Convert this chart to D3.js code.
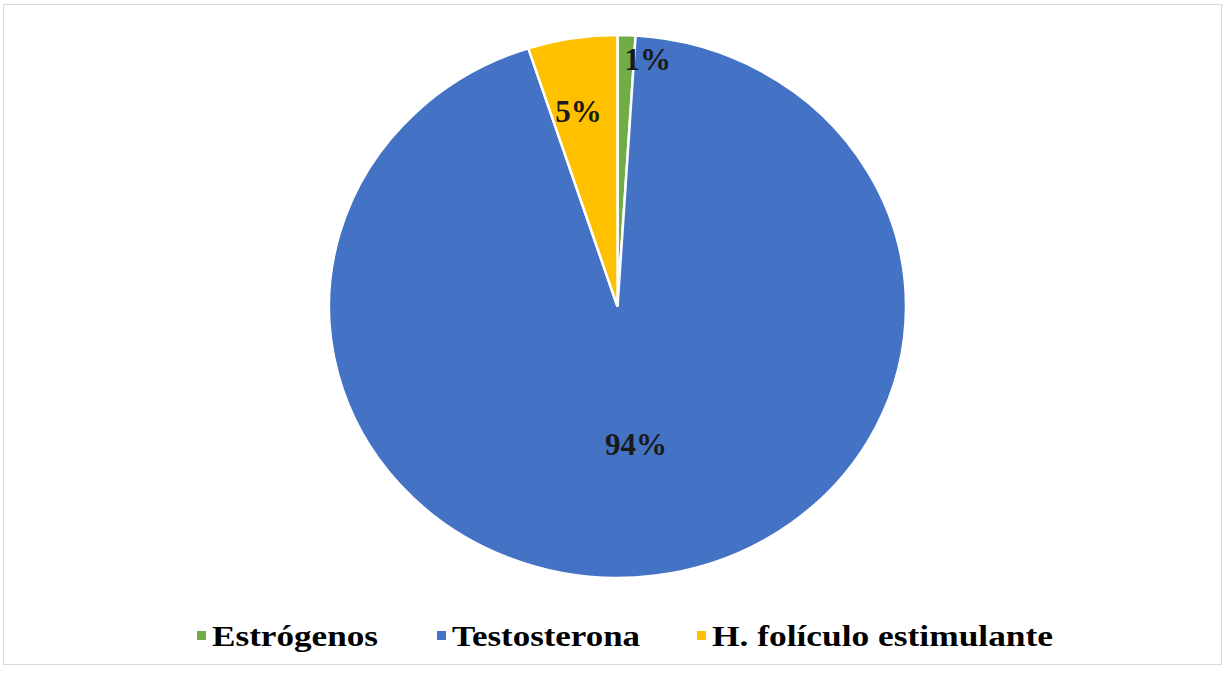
<!DOCTYPE html>
<html>
<head>
<meta charset="utf-8">
<script src="https://cdn.jsdelivr.net/npm/d3@7"></script>
<style>
  body { margin: 0; background: #fff; }
</style>
</head>
<body>
<svg width="1228" height="673"></svg>
<script>
const categories = ["Estrógenos", "Testosterona", "H. folículo estimulante"]
const values = [1, 94, 5]
const colours = ["#70ad47", "#4472c4", "#ffc000"]

const font = "'Liberation Serif', 'Times New Roman', Times, serif"
const width = 1228, height = 673
const cx = 617.5, cy = 306.5
const rx = 288.5, ry = 271.5

const svg = d3.select("svg")

// chart frame
svg.append("rect")
  .attr("x", 3.5).attr("y", 4.5)
  .attr("width", 1218).attr("height", 660)
  .attr("fill", "none")
  .attr("stroke", "#d9d9d9")

const data = categories.map((c, i) => ({name: c, value: values[i], colour: colours[i]}))
const total = d3.sum(values)

const pie = d3.pie().value(d => d.value).sort(null)
const arcs = pie(data)
const arc = d3.arc().innerRadius(0).outerRadius(rx)

// pie is slightly squashed vertically in the reference
const g = svg.append("g")
  .attr("transform", `translate(${cx},${cy}) scale(1,${ry / rx})`)

g.selectAll("path")
  .data(arcs)
  .enter().append("path")
  .attr("d", arc)
  .attr("fill", d => d.data.colour)
  .attr("stroke", "#fff")
  .attr("stroke-width", 2.5)
  .attr("vector-effect", "non-scaling-stroke")

// labels: big slice near the middle, small ones near the rim
const labelArc = d => {
  const f = d.data.value > 50 ? 0.51 : (d.data.value < 3 ? 0.91 : 0.73)
  return d3.arc().innerRadius(rx * f).outerRadius(rx * f).centroid(d)
}

svg.append("g")
  .selectAll("text")
  .data(arcs)
  .enter().append("text")
  .attr("x", d => {
    const [x] = labelArc(d)
    return cx + x + (d.data.value < 3 ? 22 : (d.data.value < 50 ? -6 : 0))
  })
  .attr("y", d => cy + labelArc(d)[1] * ry / rx)
  .attr("dy", "0.35em")
  .attr("text-anchor", "middle")
  .attr("font-family", font)
  .attr("font-weight", "bold")
  .attr("font-size", 31)
  .attr("fill", "#1a1a1a")
  .text(d => Math.round(d.data.value / total * 100) + "%")

// legend
const legendX = [197, 437, 697]
const legendW = [166, 188, 341]
const legend = svg.append("g")
  .selectAll("g")
  .data(data)
  .enter().append("g")
  .attr("transform", (d, i) => `translate(${legendX[i]},636)`)

legend.append("rect")
  .attr("x", 0).attr("y", -5)
  .attr("width", 9).attr("height", 9)
  .attr("fill", d => d.colour)

legend.append("text")
  .attr("x", 15)
  .attr("y", 10)
  .attr("font-family", font)
  .attr("font-weight", "bold")
  .attr("font-size", 30)
  .attr("fill", "#000")
  .attr("textLength", (d, i) => legendW[i])
  .attr("lengthAdjust", "spacingAndGlyphs")
  .text(d => d.name)
</script>
</body>
</html>
